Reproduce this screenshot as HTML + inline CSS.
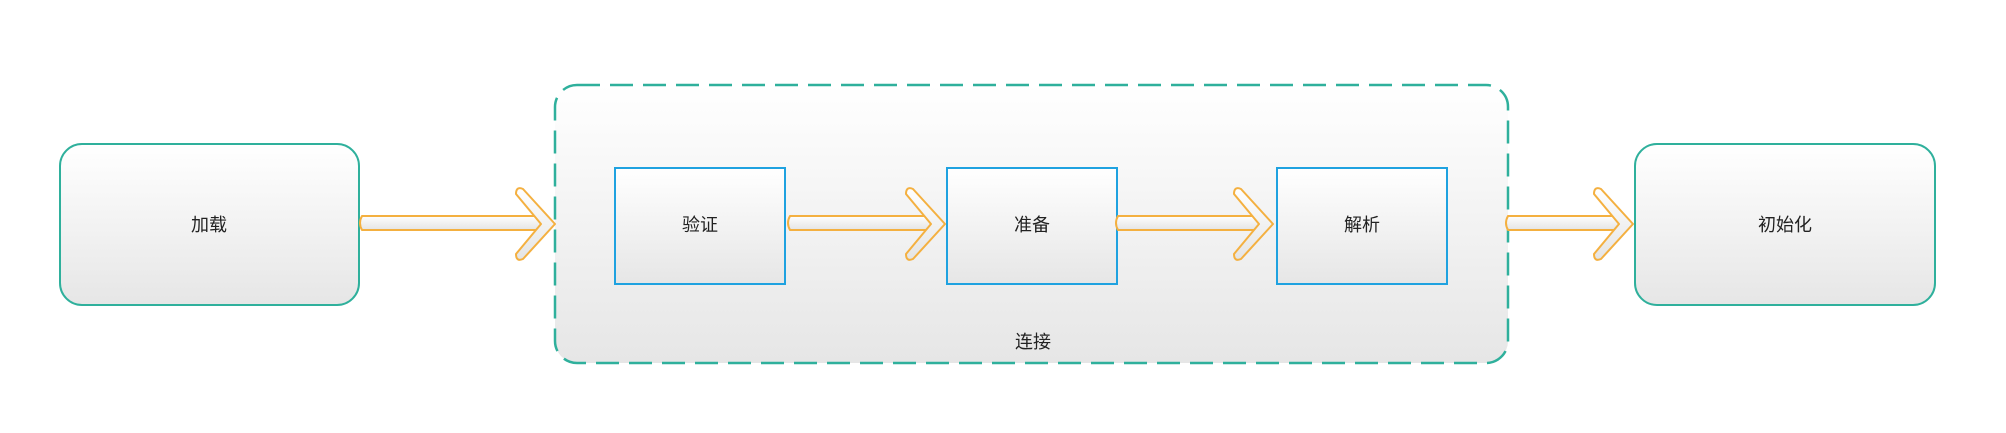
<!DOCTYPE html>
<html><head><meta charset="utf-8"><style>
html,body{margin:0;padding:0;background:#fff;}
body{width:2006px;height:428px;overflow:hidden;}
text{font-family:"Liberation Sans","Noto Sans CJK SC",sans-serif;font-size:18px;fill:#222;}
</style></head><body>
<svg width="2006" height="428" viewBox="0 0 2006 428" xmlns="http://www.w3.org/2000/svg">
<defs>
<linearGradient id="g" x1="0" y1="0" x2="0" y2="1">
<stop offset="0" stop-color="#ffffff"/><stop offset="1" stop-color="#e6e6e6"/>
</linearGradient>
<linearGradient id="a" x1="0" y1="0" x2="0" y2="1">
<stop offset="0" stop-color="#ffffff"/><stop offset="1" stop-color="#e4e4e4"/>
</linearGradient>
</defs>
<rect x="555" y="85" width="953" height="278" rx="22" fill="url(#g)" stroke="#2fb09c" stroke-width="2.5" stroke-dasharray="23 10"/>
<rect x="60" y="144" width="299" height="161" rx="22" fill="url(#g)" stroke="#2fb09c" stroke-width="2"/>
<rect x="1635" y="144" width="300" height="161" rx="22" fill="url(#g)" stroke="#2fb09c" stroke-width="2"/>
<rect x="615" y="168" width="170" height="116" fill="url(#g)" stroke="#1fa2e0" stroke-width="2"/>
<rect x="947" y="168" width="170" height="116" fill="url(#g)" stroke="#1fa2e0" stroke-width="2"/>
<rect x="1277" y="168" width="170" height="116" fill="url(#g)" stroke="#1fa2e0" stroke-width="2"/>
<g fill="url(#a)" stroke="#f4b040" stroke-width="2" stroke-linejoin="round">
<!-- arrow 1 -->
<path d="M362,216 H546 V230 H362 Q358,223 362,216 Z"/>
<path d="M516,194 Q516,186 523,189 L555,224 L523,259 Q516,262 516,254 L541,224 Z"/>
<!-- arrow 2 -->
<path d="M790,216 H936 V230 H790 Q786,223 790,216 Z"/>
<path d="M906,194 Q906,186 913,189 L945,224 L913,259 Q906,262 906,254 L931,224 Z"/>
<!-- arrow 3 -->
<path d="M1118,216 H1264 V230 H1118 Q1114,223 1118,216 Z"/>
<path d="M1234,194 Q1234,186 1241,189 L1273,224 L1241,259 Q1234,262 1234,254 L1259,224 Z"/>
<!-- arrow 4 -->
<path d="M1508,216 H1624 V230 H1508 Q1504,223 1508,216 Z"/>
<path d="M1594,194 Q1594,186 1601,189 L1633,224 L1601,259 Q1594,262 1594,254 L1619,224 Z"/>
</g>
<text x="209" y="231" text-anchor="middle">加载</text>
<text x="700" y="231" text-anchor="middle">验证</text>
<text x="1032" y="231" text-anchor="middle">准备</text>
<text x="1362" y="231" text-anchor="middle">解析</text>
<text x="1785" y="231" text-anchor="middle">初始化</text>
<text x="1033" y="348" text-anchor="middle">连接</text>
</svg>
</body></html>
